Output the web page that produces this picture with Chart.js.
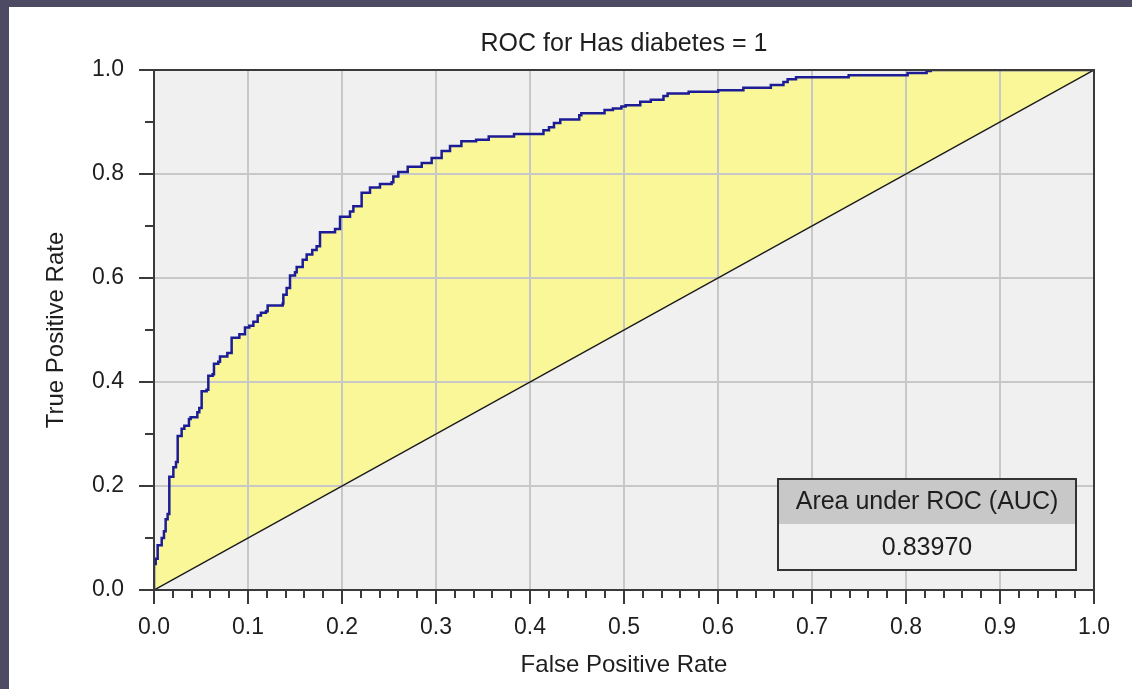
<!DOCTYPE html>
<html>
<head>
<meta charset="utf-8">
<title>ROC for Has diabetes = 1</title>
<script src="https://cdn.jsdelivr.net/npm/chart.js@4/dist/chart.umd.min.js"></script>
<style>
  html, body { margin: 0; padding: 0; background: #4d4b63; width: 1132px; height: 689px; overflow: hidden; }
  #panel { position: absolute; left: 9px; top: 7px; width: 1123px; height: 682px; background: #ffffff; }
  #rocChart { display: block; }
</style>
</head>
<body>
<div id="panel"><canvas id="rocChart" width="1123" height="682"></canvas></div>
<script>
// Chart text
const CHART_TITLE = 'ROC for Has diabetes = 1';
const X_TITLE = 'False Positive Rate';
const Y_TITLE = 'True Positive Rate';
const AUC_LABEL = 'Area under ROC (AUC)';
const AUC_VALUE = 0.83970;

// Axis ticks
const X_STEP = 0.1;
const X_MINOR_STEP = 0.02;
const Y_STEP = 0.2;
const Y_MINOR_STEP = 0.1;

// ROC curve vertices, one step per pair
const fpr = [
  0, 0, 0.0018, 0.0039, 0.0082, 0.0106, 0.0124, 0.0145, 0.0163, 0.0206,
  0.0234, 0.0252, 0.0294, 0.0323, 0.0372, 0.039, 0.0461, 0.0482, 0.0507, 0.056,
  0.0578, 0.0624, 0.0638, 0.0684, 0.0702, 0.078, 0.0826, 0.0908, 0.0968, 0.1014,
  0.1057, 0.1103, 0.1138, 0.1191, 0.1209, 0.1369, 0.1376, 0.1411, 0.1447, 0.15,
  0.1518, 0.1582, 0.1624, 0.1684, 0.173, 0.1766, 0.1926, 0.1979, 0.2085, 0.2121,
  0.2209, 0.2298, 0.2404, 0.2528, 0.2546, 0.2599, 0.2699, 0.2848, 0.2954, 0.306,
  0.3149, 0.327, 0.3427, 0.3561, 0.383, 0.4143, 0.4202, 0.4255, 0.4322, 0.4524,
  0.4546, 0.4793, 0.4882, 0.4972, 0.5017, 0.5173, 0.5285, 0.542, 0.5464, 0.5688,
  0.6002, 0.627, 0.6562, 0.6696, 0.6741, 0.683, 0.739, 0.8017, 0.8219, 0.8263,
  1.0
];
const tpr = [
  0, 0.05, 0.06, 0.086, 0.10, 0.113, 0.136, 0.146, 0.218, 0.236,
  0.246, 0.296, 0.31, 0.316, 0.329, 0.332, 0.342, 0.35, 0.382, 0.385,
  0.412, 0.415, 0.435, 0.439, 0.449, 0.456, 0.485, 0.492, 0.505, 0.508,
  0.516, 0.528, 0.533, 0.536, 0.547, 0.551, 0.568, 0.581, 0.605, 0.611,
  0.621, 0.635, 0.645, 0.654, 0.661, 0.688, 0.694, 0.718, 0.728, 0.738,
  0.764, 0.774, 0.781, 0.784, 0.795, 0.804, 0.814, 0.821, 0.831, 0.844,
  0.854, 0.863, 0.866, 0.872, 0.877, 0.884, 0.89, 0.898, 0.905, 0.913,
  0.917, 0.923, 0.926, 0.93, 0.932, 0.939, 0.943, 0.95, 0.955, 0.958,
  0.961, 0.966, 0.971, 0.977, 0.982, 0.986, 0.99, 0.994, 0.998, 1.0,
  1.0
];

// Chance line
const chanceX = [0, 1];
const chanceY = [0, 1];

const FONT = '"Liberation Sans", Arial, sans-serif';
const TEXT_COLOR = '#1e1e1e';
const AXIS_COLOR = '#3a3a3a';

Chart.defaults.font.family = FONT;
Chart.defaults.color = TEXT_COLOR;

// Plot background, frame, minor ticks and the AUC box
const decorations = {
  id: 'decorations',
  beforeDraw(chart) {
    // the fill is already drawn at this point, so paint the plot background behind it
    const { ctx, chartArea: a } = chart;
    ctx.save();
    ctx.globalCompositeOperation = 'destination-over';
    ctx.fillStyle = '#f0f0f0';
    ctx.fillRect(a.left, a.top, a.width, a.height);
    ctx.restore();
  },
  afterDraw(chart) {
    const { ctx, chartArea: a, scales } = chart;
    ctx.save();
    ctx.strokeStyle = AXIS_COLOR;
    ctx.lineWidth = 2;
    ctx.beginPath();
    const nx = Math.round(1 / X_MINOR_STEP);
    const every = Math.round(X_STEP / X_MINOR_STEP);
    for (let i = 1; i < nx; i++) {
      if (i % every === 0) continue;
      const px = Math.round(scales.x.getPixelForValue(i * X_MINOR_STEP));
      ctx.moveTo(px, a.bottom);
      ctx.lineTo(px, a.bottom + 8);
    }
    const ny = Math.round(1 / Y_MINOR_STEP);
    const everyY = Math.round(Y_STEP / Y_MINOR_STEP);
    for (let i = 1; i < ny; i++) {
      if (i % everyY === 0) continue;
      const py = Math.round(scales.y.getPixelForValue(i * Y_MINOR_STEP));
      ctx.moveTo(a.left - 9, py);
      ctx.lineTo(a.left, py);
    }
    ctx.stroke();
    ctx.strokeRect(a.left, a.top, a.width, a.height);

    // AUC box in the lower right corner
    const bw = 298, bh = 91, hh = 45;
    const bx = a.right - 18 - bw;
    const by = a.bottom - 20 - bh;
    ctx.fillStyle = '#f0f0f0';
    ctx.fillRect(bx, by, bw, bh);
    ctx.fillStyle = '#c8c8c8';
    ctx.fillRect(bx, by, bw, hh);
    ctx.strokeStyle = '#333333';
    ctx.strokeRect(bx, by, bw, bh);
    ctx.fillStyle = TEXT_COLOR;
    ctx.font = '25px ' + FONT;
    ctx.textAlign = 'center';
    ctx.textBaseline = 'middle';
    ctx.fillText(AUC_LABEL, bx + bw / 2, by + hh / 2 + 1);
    ctx.fillText(AUC_VALUE.toFixed(5), bx + bw / 2, by + hh + (bh - hh) / 2 + 1);
    ctx.restore();
  },
};

function renderRoc() {
  const rocPoints = fpr.map((x, i) => ({ x, y: tpr[i] }));
  const chancePoints = chanceX.map((x, i) => ({ x, y: chanceY[i] }));
  const ctx = document.getElementById('rocChart').getContext('2d');
  new Chart(ctx, {
    type: 'line',
    data: {
      datasets: [
        {
          label: 'ROC',
          data: rocPoints,
          borderColor: '#1c1c96',
          borderWidth: 2.5,
          backgroundColor: '#f9f797',
          fill: 1,
          stepped: 'before',
          pointRadius: 0,
          tension: 0,
        },
        {
          label: 'Chance',
          data: chancePoints,
          borderColor: '#1a1a1a',
          borderWidth: 1.5,
          fill: false,
          pointRadius: 0,
        },
      ],
    },
    options: {
      responsive: false,
      animation: false,
      devicePixelRatio: 1,
      layout: { padding: { left: 0, right: 38, top: 0, bottom: 0 } },
      plugins: {
        legend: { display: false },
        tooltip: { enabled: false },
        filler: { drawTime: 'beforeDraw' },
        title: {
          display: true,
          text: CHART_TITLE,
          fullSize: false,
          color: TEXT_COLOR,
          font: { size: 25, weight: 'normal' },
          padding: { top: 22, bottom: 11 },
        },
      },
      scales: {
        x: {
          type: 'linear',
          min: 0,
          max: 1,
          afterFit: (scale) => { scale.height = 99; },
          grid: { color: '#c8c8c8', lineWidth: 2, tickColor: AXIS_COLOR, tickWidth: 2, tickLength: 14 },
          border: { color: AXIS_COLOR, width: 2 },
          ticks: {
            stepSize: X_STEP,
            padding: 10,
            maxRotation: 0,
            font: { size: 23 },
            callback: (v) => Number(v).toFixed(1),
          },
          title: { display: true, text: X_TITLE, font: { size: 24 }, padding: { top: 0, bottom: 9 } },
        },
        y: {
          min: 0,
          max: 1,
          afterFit: (scale) => { scale.width = 145; },
          grid: { color: '#c8c8c8', lineWidth: 2, tickColor: AXIS_COLOR, tickWidth: 2, tickLength: 15 },
          border: { color: AXIS_COLOR, width: 2 },
          ticks: {
            stepSize: Y_STEP,
            padding: 15,
            font: { size: 23 },
            callback: (v) => Number(v).toFixed(1),
          },
          title: { display: true, text: Y_TITLE, font: { size: 24 }, padding: { top: 33, bottom: 0 } },
        },
      },
    },
    plugins: [decorations],
  });
}

document.addEventListener('DOMContentLoaded', renderRoc);
</script>
</body>
</html>
